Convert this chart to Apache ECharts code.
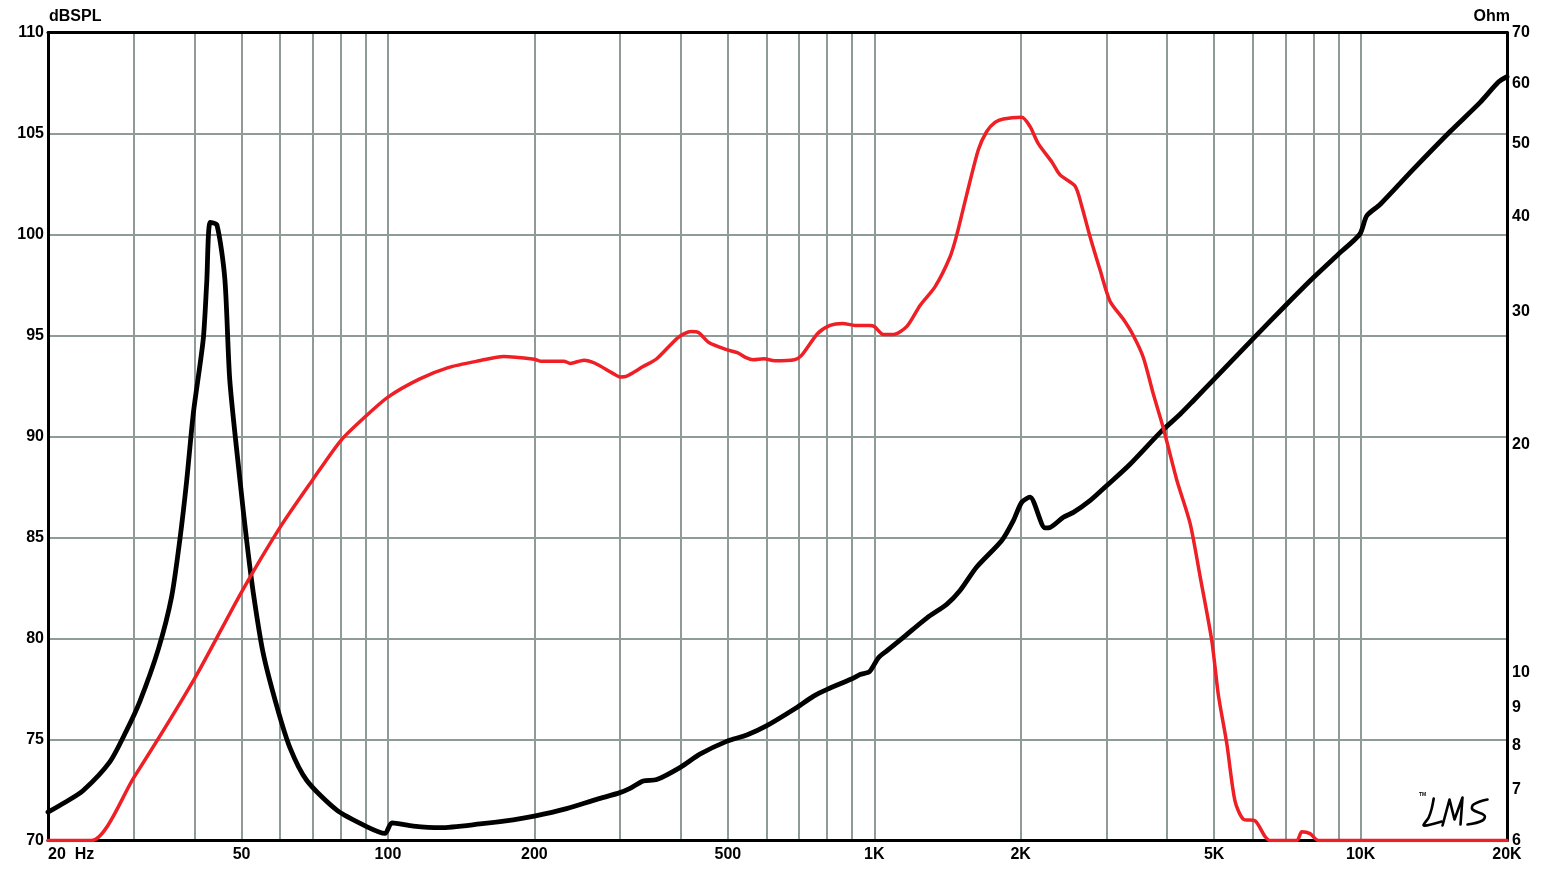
<!DOCTYPE html>
<html>
<head>
<meta charset="utf-8">
<script src="https://cdn.jsdelivr.net/npm/echarts@6/dist/echarts.min.js"></script>
<style>
html,body{margin:0;padding:0;background:#fff;}
#chart{width:1548px;height:872px;}
</style>
</head>
<body>
<div id="chart"></div>
<script>
// Frequency axis (Hz): grid lines and labelled ticks
const freqGrid = [30,40,50,60,70,80,90,100,200,300,400,500,600,700,800,900,1000,2000,3000,4000,5000,6000,7000,8000,9000,10000,20000];
const freqLabelValues = [20,50,100,200,500,1000,2000,5000,10000,20000];
const freqLabelTexts = ['20  Hz','50','100','200','500','1K','2K','5K','10K','20K'];
// Impedance axis ticks (Ohm)
const ohmTicks = [6,7,8,9,10,20,30,40,50,60,70];

// SPL response (dBSPL) : [Hz, dB]
const splFreq = [20,24.6,30,40,50,60,70,80,90,100,116,133,155,173,200,206,230,237,253,266,289,300,309,334,357,395,420,435,457,497,523,545,564,593,624,685,708,765,811,861,913,977,1000,1044,1095,1167,1243,1334,1432,1478,1550,1637,1703,1771,1842,2010,2090,2174,2317,2410,2587,2671,2777,2912,3053,3253,3409,3576,3748,3932,4188,4461,4675,4943,5100,5307,5518,5741,6069,6361,6514,7393,7570,7873,8188,20000];
const splDb = [70,70,73.1,78.0,82.3,85.5,87.85,89.8,91.0,91.95,92.84,93.41,93.76,93.96,93.82,93.73,93.73,93.62,93.78,93.64,93.15,92.95,92.98,93.45,93.85,94.9,95.2,95.15,94.65,94.3,94.15,93.9,93.8,93.85,93.75,93.8,94.0,95.1,95.5,95.6,95.5,95.5,95.45,95.05,95.05,95.45,96.5,97.42,98.9,99.98,102.0,104.2,105.1,105.55,105.72,105.8,105.35,104.5,103.6,102.95,102.4,101.4,99.9,98.25,96.7,95.8,95.0,93.9,92.1,90.4,87.85,85.7,83.1,79.9,77.2,74.8,71.95,71.05,70.97,70.2,70,70,70.43,70.34,70,70];

// Impedance (Ohm) : [Hz, Ohm]
const impFreq = [20,21.7,23.6,26.8,29.0,30.9,33.7,35.9,37.35,38.56,39.8,41.7,42.4,43.1,44.5,46.2,47.3,49.65,51.25,52.9,55.4,59.1,62.9,68.1,78.5,90.4,98.6,101.9,112.8,128,154.7,181,200,233,268.8,300,314.6,335,357,400,438,497,547,600,693,749,800,900,935,977,1020,1061,1148,1282,1409,1501,1624,1829,1932,2010,2090,2245,2299,2448,2567,2777,3000,3357,3870,4254,4530,5000,6000,7000,8000,9000,9960,10297,10965,12842,15280,17614,19205,20000];
const impOhm = [6.54,6.74,6.98,7.62,8.38,9.16,10.72,12.58,15.0,17.9,22.0,27.5,32.7,39.3,39.0,33.1,24.3,17.9,14.9,12.7,10.6,9.02,7.95,7.2,6.58,6.26,6.13,6.33,6.27,6.24,6.31,6.39,6.46,6.61,6.8,6.94,7.03,7.19,7.22,7.5,7.8,8.11,8.27,8.5,8.99,9.3,9.5,9.81,9.94,10.02,10.46,10.68,11.13,11.8,12.3,12.83,13.78,14.94,15.87,16.78,17.04,15.52,15.54,16.03,16.27,16.86,17.63,18.84,20.74,21.93,22.85,24.4,27.56,30.5,33.23,35.67,37.9,40.1,41.5,46.2,51.8,56.6,60.2,61.2];

const splData = splFreq.map((f, i) => [f, splDb[i]]);
const impData = impFreq.map((f, i) => [f, impOhm[i]]);

const FONT = 'Liberation Sans';
const labelStyle = {color:'#000', fontFamily: FONT, fontWeight:'bold', fontSize:16};
const gridColor = '#8f9b99';

const chart = echarts.init(document.getElementById('chart'), null, {renderer:'canvas'});
chart.setOption({
  animation:false,
  backgroundColor:'#fff',
  grid:{left:48, right:41, top:32.5, bottom:31.5, containLabel:false},
  xAxis:[{
    type:'log', logBase:10, min:20, max:20000,
    axisLine:{show:true, onZero:false, lineStyle:{color:'#000', width:3}},
    axisTick:{show:false, customValues: freqGrid},
    splitLine:{show:true, lineStyle:{color:gridColor, width:2}},
    minorSplitLine:{show:false},
    axisLabel:Object.assign({}, labelStyle, {
      margin:6,
      customValues: freqLabelValues,
      alignMinLabel:'left',
      alignMaxLabel:'center',
      formatter:function(v){
        let best = 0, bd = Infinity;
        freqLabelValues.forEach((fv, i) => { const d = Math.abs(Math.log(fv) - Math.log(v)); if (d < bd) { bd = d; best = i; } });
        return freqLabelTexts[best];
      }
    })
  },{
    type:'log', logBase:10, min:20, max:20000, position:'top',
    axisLine:{show:true, onZero:false, lineStyle:{color:'#000', width:3}},
    axisTick:{show:false}, axisLabel:{show:false}, splitLine:{show:false}
  }],
  yAxis:[{
    type:'value', min:70, max:110, interval:5, position:'left',
    name:'dBSPL', nameLocation:'end', nameGap:3,
    nameTextStyle:Object.assign({}, labelStyle, {align:'left', verticalAlign:'bottom', padding:[0,0,0,1]}),
    axisLine:{show:true, onZero:false, lineStyle:{color:'#000', width:3}},
    axisTick:{show:false},
    splitLine:{show:true, lineStyle:{color:gridColor, width:2}},
    axisLabel:Object.assign({}, labelStyle, {margin:4})
  },{
    type:'log', logBase:10, min:6, max:70, position:'right',
    name:'Ohm', nameLocation:'end', nameGap:3,
    nameTextStyle:Object.assign({}, labelStyle, {align:'right', verticalAlign:'bottom', padding:[0,-3,0,0]}),
    axisLine:{show:true, onZero:false, lineStyle:{color:'#000', width:3}},
    axisTick:{show:false, customValues: ohmTicks},
    splitLine:{show:false},
    axisLabel:Object.assign({}, labelStyle, {margin:5, customValues: ohmTicks, formatter:function(v){return String(Math.round(v));}})
  }],
  series:[{
    name:'Impedance', type:'line', xAxisIndex:0, yAxisIndex:1,
    data: impData, showSymbol:false, smooth:0.25,
    lineStyle:{color:'#000', width:4.8, join:'round', cap:'round'},
    z:3, silent:true
  },{
    name:'SPL', type:'line', xAxisIndex:0, yAxisIndex:0,
    data: splData, showSymbol:false, smooth:0.25,
    lineStyle:{color:'#ee1f25', width:3.5, join:'round', cap:'round'},
    z:4, silent:true
  }],
  graphic:[
    {type:'text', left:1419, top:792, style:{text:'TM', fontSize:5, fontFamily:FONT, fontWeight:'bold', fill:'#000'}},
    {type:'polyline', left:1421, top:796, shape:{points:[[10,0],[8,10],[5,19],[0,27],[18,23]], smooth:0.3}, style:{fill:null, stroke:'#000', lineWidth:2.6, lineCap:'round', lineJoin:'round'}},
    {type:'polyline', left:1440, top:795, shape:{points:[[0,28],[7,2],[12,22],[20,0],[18,27]]}, style:{fill:null, stroke:'#000', lineWidth:2.6, lineCap:'round', lineJoin:'round'}},
    {type:'polyline', left:1465, top:797, shape:{points:[[20,0],[6,5],[5,10],[17,16],[15,21],[0,25]], smooth:0.4}, style:{fill:null, stroke:'#000', lineWidth:2.6, lineCap:'round', lineJoin:'round'}}
  ]
});
</script>
</body>
</html>
